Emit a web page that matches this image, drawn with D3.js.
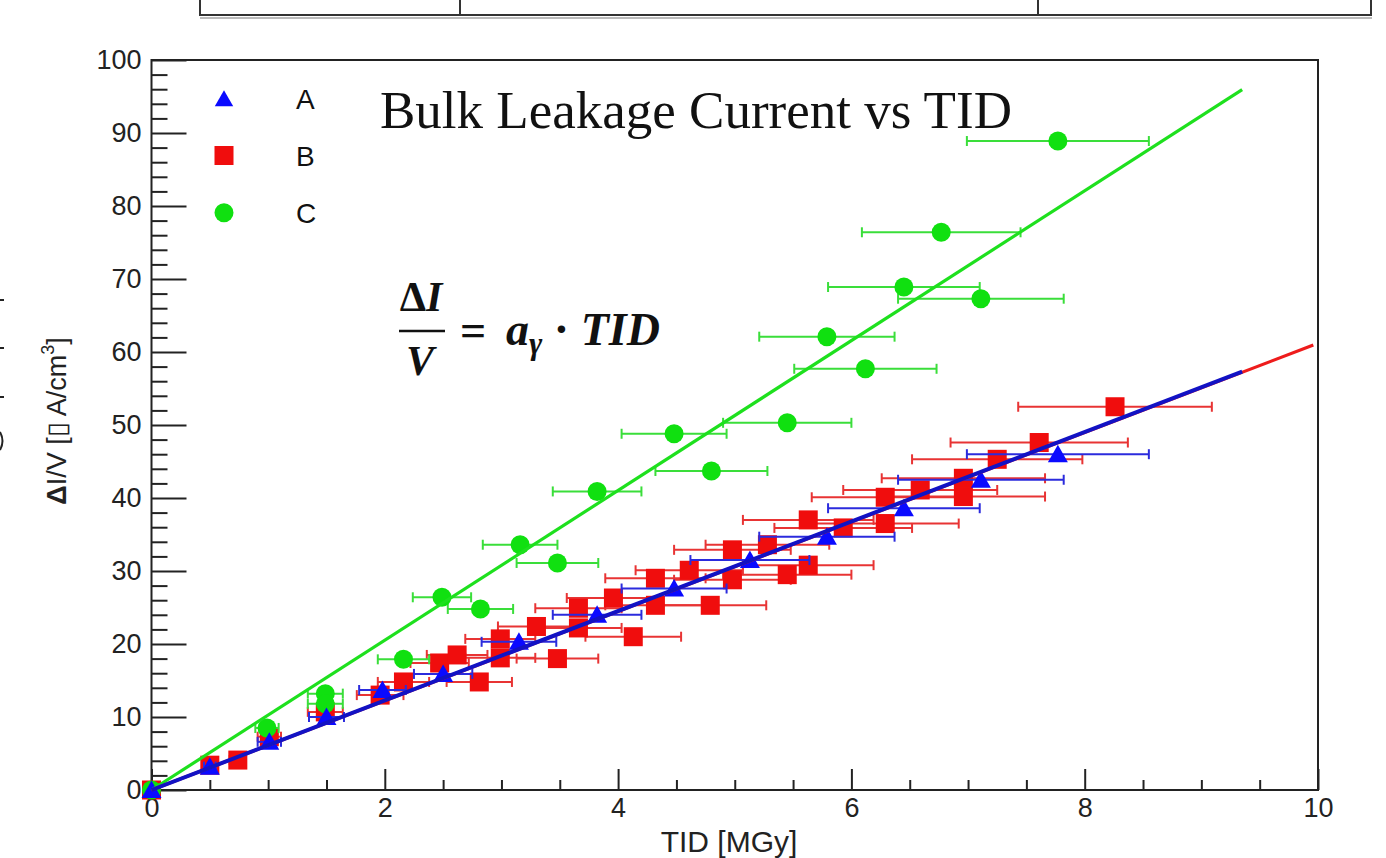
<!DOCTYPE html>
<html>
<head>
<meta charset="utf-8">
<script src="https://cdn.jsdelivr.net/npm/d3@7/dist/d3.min.js"></script>
<style>
  body { margin: 0; background: #fff; }
  svg { font-family: "Liberation Sans", Arial, sans-serif; }
</style>
</head>
<body>
<svg id="chart" width="1386" height="858"></svg>
<script>
// ---- data ----
var seriesNames = ['A', 'B', 'C'];

// A (blue triangles)
var aTid = [0, 0.50, 1.01, 1.50, 1.98, 2.50, 3.15, 3.82, 4.48, 5.13, 5.79, 6.45, 7.11, 7.77];
var aVal = [0, 3.2, 6.6, 10.0, 13.7, 15.9, 20.3, 24.0, 27.6, 31.5, 34.7, 38.6, 42.5, 46.0];
var aErr = [0, 0.05, 0.10, 0.15, 0.20, 0.25, 0.32, 0.38, 0.45, 0.51, 0.58, 0.65, 0.71, 0.78];

// B (red squares)
var bTid = [0, 0.50, 0.74, 1.01, 1.49, 1.96, 2.16, 2.47, 2.62, 2.81, 2.99, 2.99, 3.30, 3.48, 3.66, 3.66, 3.96, 4.13, 4.32,
            4.32, 4.61, 4.79, 4.98, 4.98, 5.28, 5.45, 5.63, 5.63, 5.93, 6.29, 6.29, 6.59, 6.96, 6.96, 7.25, 7.61, 8.26];
var bVal = [0, 3.4, 4.1, 7.3, 10.7, 13.0, 14.8, 17.4, 18.5, 14.8, 20.7, 18.1, 22.4, 18.0, 24.9, 22.2, 26.3, 21.0, 29.0,
            25.3, 30.1, 25.3, 32.9, 28.8, 33.6, 29.5, 37.0, 30.8, 35.9, 40.1, 36.5, 41.1, 42.7, 40.2, 45.3, 47.6, 52.5];
var bErr = [0, 0.05, 0.07, 0.10, 0.15, 0.20, 0.22, 0.25, 0.26, 0.28, 0.30, 0.30, 0.33, 0.35, 0.37, 0.37, 0.40, 0.41, 0.43,
            0.43, 0.46, 0.48, 0.50, 0.50, 0.53, 0.55, 0.56, 0.56, 0.59, 0.63, 0.63, 0.66, 0.70, 0.70, 0.73, 0.76, 0.83];

// C (green circles)
var cTid = [0, 0.99, 1.49, 1.49, 2.16, 2.49, 2.82, 3.16, 3.48, 3.82, 4.48, 4.80, 5.45, 5.79, 6.12, 6.45, 6.77, 7.11, 7.77];
var cVal = [0, 8.5, 13.2, 11.8, 17.9, 26.4, 24.8, 33.6, 31.1, 40.9, 48.8, 43.7, 50.3, 62.1, 57.7, 68.9, 76.4, 67.3, 88.9];
var cErr = [0, 0.10, 0.15, 0.15, 0.22, 0.25, 0.28, 0.32, 0.35, 0.38, 0.45, 0.48, 0.55, 0.58, 0.61, 0.65, 0.68, 0.71, 0.78];

// linear fits through the origin: slope and last x drawn
var fitNames = ['C', 'B', 'A'];
var fitSlope = [10.26, 6.12, 6.13];
var fitEnd = [9.35, 9.96, 9.35];

var xMajor = [0, 2, 4, 6, 8, 10];
var yMajor = [0, 10, 20, 30, 40, 50, 60, 70, 80, 90, 100];

// ---- look ----
var colors = { A: '#0a0aff', B: '#f00d0d', C: '#10e010' };
var barColors = { A: '#2b2bdd', B: '#e83434', C: '#3ade3a' };
var lineColors = { A: '#1212c4', B: '#ee1c1c', C: '#1ee01e' };
var serif = '"Liberation Serif", "Times New Roman", serif';

var svg = d3.select('#chart');

var x = d3.scaleLinear().domain([0, 10]).range([151.5, 1318]);
var y = d3.scaleLinear().domain([0, 100]).range([790, 60]);

// table fragment cut off at the page top
var tableG = svg.append('g').attr('stroke', '#333').attr('stroke-width', 2);
tableG.append('line').attr('x1', 200).attr('x2', 1372).attr('y1', 15).attr('y2', 15);
tableG.append('line').attr('x1', 200).attr('x2', 1372).attr('y1', 18).attr('y2', 18).attr('stroke', '#bbb');
[200, 460, 1038, 1371].forEach(function(px) {
  tableG.append('line').attr('x1', px).attr('x2', px).attr('y1', 0).attr('y2', 16);
});

// bits of a clipped label at the far left edge
var edge = svg.append('g').attr('stroke', '#222').attr('stroke-width', 2);
[300, 348, 397].forEach(function(py) {
  edge.append('line').attr('x1', 0).attr('x2', 4).attr('y1', py).attr('y2', py);
});
edge.append('path').attr('d', 'M0,432 Q5,441 0,450').attr('fill', 'none');

// frame
svg.append('rect')
  .attr('x', x(0)).attr('y', y(100))
  .attr('width', x(10) - x(0)).attr('height', y(0) - y(100))
  .attr('fill', 'none').attr('stroke', '#222').attr('stroke-width', 2);

// axes
var xMinor = d3.range(0, 10.01, 0.5).filter(function(v) { return v % 2 !== 0; });
var yMinor = d3.range(0, 100.1, 2).filter(function(v) { return v % 10 !== 0; });

svg.append('g').attr('transform', 'translate(0,' + y(0) + ')')
  .call(d3.axisBottom(x).tickValues(xMinor).tickSize(-10).tickFormat(''));
var gx = svg.append('g').attr('transform', 'translate(0,' + y(0) + ')')
  .call(d3.axisBottom(x).tickValues(xMajor).tickSize(-21).tickPadding(8).tickFormat(d3.format('d')));

svg.append('g').attr('transform', 'translate(' + x(0) + ',0)')
  .call(d3.axisLeft(y).tickValues(yMinor).tickSize(-16).tickFormat(''));
var gy = svg.append('g').attr('transform', 'translate(' + x(0) + ',0)')
  .call(d3.axisLeft(y).tickValues(yMajor).tickSize(-35).tickPadding(10).tickFormat(d3.format('d')));

svg.selectAll('.domain').remove();
svg.selectAll('.tick line').attr('stroke', '#222').attr('stroke-width', 2);
svg.selectAll('.tick text').attr('font-size', 27).attr('fill', '#222')
  .style('font-family', '"Liberation Sans", Arial, sans-serif');

// axis titles
svg.append('text').attr('x', 729).attr('y', 852).attr('text-anchor', 'middle')
  .attr('font-size', 30).attr('fill', '#222').text('TID [MGy]');

var yt = svg.append('text')
  .attr('transform', 'translate(66,421) rotate(-90)')
  .attr('text-anchor', 'middle').attr('font-size', 27).attr('fill', '#222');
yt.append('tspan').attr('font-weight', 'bold').text('\u0394');
yt.append('tspan').text('I/V [\u25AF A/cm');
yt.append('tspan').attr('font-size', 18).attr('dy', -12).text('3');
yt.append('tspan').attr('dy', 12).text(']');

// error bars + markers
var triPath = 'M0,-9.5L10,8L-10,8Z';

function drawSeries(name, xs, ys, es) {
  var pts = xs.map(function(v, i) { return { x: v, y: ys[i], e: es[i] }; });
  var g = svg.append('g').attr('class', 'series-' + name);

  var bars = g.selectAll('g.bar').data(pts.filter(function(d) { return d.e > 0; })).enter()
    .append('g').attr('stroke', barColors[name]).attr('stroke-width', 2);
  bars.append('line')
    .attr('x1', function(d) { return x(d.x - d.e); }).attr('x2', function(d) { return x(d.x + d.e); })
    .attr('y1', function(d) { return y(d.y); }).attr('y2', function(d) { return y(d.y); });
  bars.append('line')
    .attr('x1', function(d) { return x(d.x - d.e); }).attr('x2', function(d) { return x(d.x - d.e); })
    .attr('y1', function(d) { return y(d.y) - 5; }).attr('y2', function(d) { return y(d.y) + 5; });
  bars.append('line')
    .attr('x1', function(d) { return x(d.x + d.e); }).attr('x2', function(d) { return x(d.x + d.e); })
    .attr('y1', function(d) { return y(d.y) - 5; }).attr('y2', function(d) { return y(d.y) + 5; });

  var m = g.selectAll('.mk').data(pts).enter();
  if (name === 'A') {
    m.append('path').attr('d', triPath).attr('fill', colors[name])
      .attr('transform', function(d) { return 'translate(' + x(d.x) + ',' + y(d.y) + ')'; });
  } else if (name === 'B') {
    m.append('rect').attr('width', 19).attr('height', 19).attr('fill', colors[name])
      .attr('x', function(d) { return x(d.x) - 9.5; }).attr('y', function(d) { return y(d.y) - 9.5; });
  } else {
    m.append('circle').attr('r', 9.5).attr('fill', colors[name])
      .attr('cx', function(d) { return x(d.x); }).attr('cy', function(d) { return y(d.y); });
  }
}

drawSeries('B', bTid, bVal, bErr);
drawSeries('C', cTid, cVal, cErr);
drawSeries('A', aTid, aVal, aErr);

// fit lines
var line = d3.line().x(function(d) { return x(d[0]); }).y(function(d) { return y(d[1]); });
fitNames.forEach(function(n, i) {
  svg.append('path')
    .datum([[0, 0], [fitEnd[i], fitSlope[i] * fitEnd[i]]])
    .attr('d', line).attr('fill', 'none')
    .attr('stroke', lineColors[n]).attr('stroke-width', n === 'A' ? 4 : 3.2);
});

// legend
var legY = [99, 155.5, 212.7];
var leg = svg.append('g');
seriesNames.forEach(function(n, i) {
  if (n === 'A') leg.append('path').attr('d', triPath).attr('fill', colors[n])
    .attr('transform', 'translate(224,' + legY[i] + ') scale(0.92)');
  if (n === 'B') leg.append('rect').attr('x', 214.5).attr('y', legY[i] - 9.5)
    .attr('width', 19).attr('height', 19).attr('fill', colors[n]);
  if (n === 'C') leg.append('circle').attr('cx', 224).attr('cy', legY[i]).attr('r', 9.5).attr('fill', colors[n]);
  leg.append('text').attr('x', 296).attr('y', legY[i]).attr('dy', '0.36em')
    .attr('font-size', 28).attr('fill', '#111').text(n);
});

// title
svg.append('text').attr('x', 380).attr('y', 128)
  .style('font-family', serif)
  .attr('font-size', 53).attr('fill', '#111').text('Bulk Leakage Current vs TID');

// formula  dI/V = a_gamma * TID
var f = svg.append('g').style('font-family', serif)
  .attr('font-weight', 'bold').attr('font-style', 'italic').attr('fill', '#111');
f.append('text').attr('x', 421).attr('y', 311).attr('text-anchor', 'middle').attr('font-size', 42)
  .html('<tspan font-style="normal">\u0394</tspan>I');
f.append('line').attr('x1', 399).attr('x2', 445).attr('y1', 331).attr('y2', 331)
  .attr('stroke', '#111').attr('stroke-width', 2.5);
f.append('text').attr('x', 420).attr('y', 375).attr('text-anchor', 'middle').attr('font-size', 42).text('V');
f.append('text').attr('x', 460).attr('y', 346).attr('font-size', 46).attr('font-style', 'normal').text('=');
var rhs = f.append('text').attr('x', 506).attr('y', 345).attr('font-size', 46);
rhs.append('tspan').text('a');
rhs.append('tspan').attr('font-size', 32).attr('dy', 9).text('\u03B3');
rhs.append('tspan').attr('dy', -9).attr('font-style', 'normal').text(' \u00B7 ');
rhs.append('tspan').text('TID');
</script>
</body>
</html>
